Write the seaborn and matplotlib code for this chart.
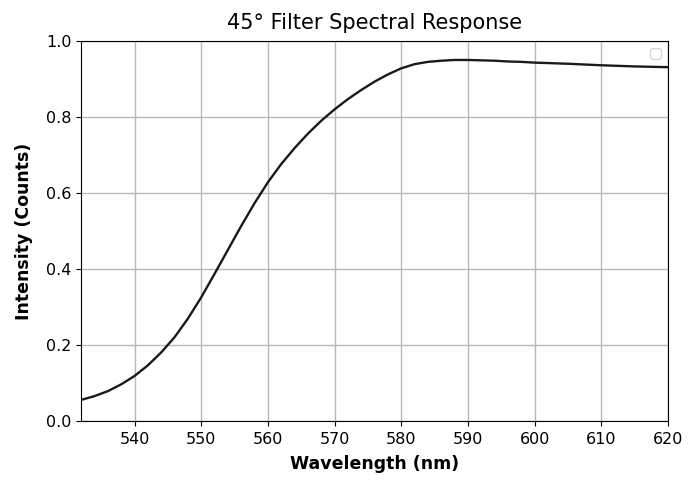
import numpy as np
import pandas as pd
import seaborn as sns
from matplotlib import pyplot as plt

## values
wavelength = [532, 534, 536, 538, 540, 542, 544, 546, 548, 550,
              552, 554, 556, 558, 560, 562, 564, 566, 568, 570,
              572, 574, 576, 578, 580, 582, 584, 586, 588, 590,
              592, 594, 596, 598, 600, 605, 610, 615, 620]
intensity = [0.055, 0.065, 0.078, 0.096, 0.118, 0.146, 0.180, 0.220, 0.269, 0.325,
             0.387, 0.450, 0.513, 0.573, 0.628, 0.676, 0.718, 0.756, 0.790, 0.820,
             0.847, 0.871, 0.893, 0.912, 0.928, 0.939, 0.945, 0.948, 0.950, 0.950,
             0.949, 0.948, 0.946, 0.945, 0.943, 0.940, 0.936, 0.933, 0.931]

df = pd.DataFrame({'wl': wavelength, 'counts': intensity})

fig = plt.figure(figsize=(6.88, 4.82), dpi=100)
ax = fig.add_axes([0.118, 0.127, 0.853, 0.788])

sns.lineplot(data=df, x='wl', y='counts', color='#1a1a1a', linewidth=1.7, ax=ax)

ax.set_xlim(532, 620)
ax.set_ylim(0, 1.0)
ax.set_xticks(np.arange(540, 621, 10))
ax.set_yticks(np.arange(0, 1.01, 0.2))
ax.tick_params(labelsize=11.5)
ax.tick_params(axis='x', pad=4.5)
ax.grid(True, color='#b8b8b8', linewidth=1.0)
ax.set_axisbelow(True)

ax.set_title('45° Filter Spectral Response', fontsize=15, pad=8.5)
ax.set_xlabel('Wavelength (nm)', fontsize=12.5, fontweight='bold', labelpad=6)
ax.set_ylabel('Intensity (Counts)', fontsize=12.5, fontweight='bold', labelpad=9)
ax.legend(handles=[], loc='upper right')

fig.savefig('out.png', dpi=100)
